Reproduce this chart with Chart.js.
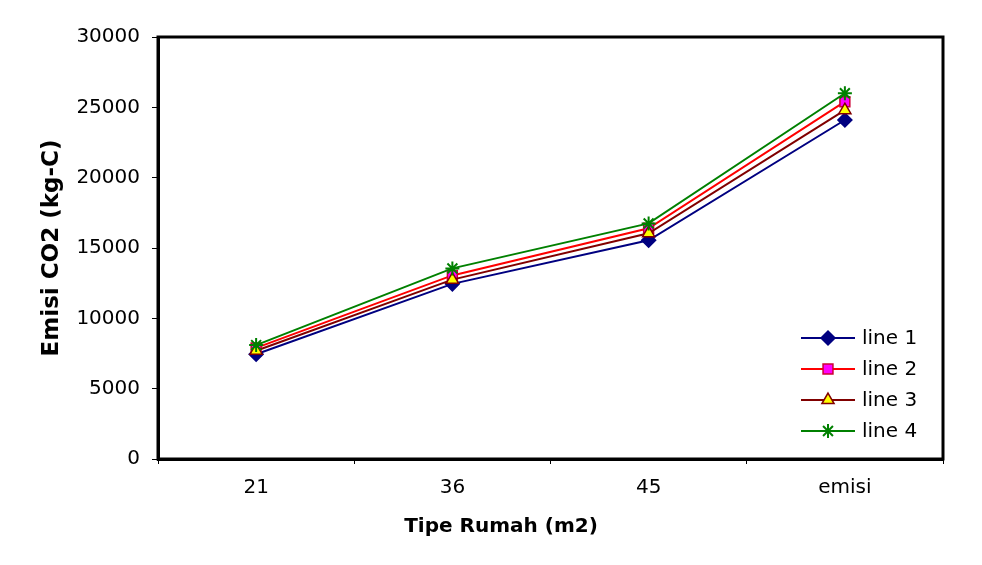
<!DOCTYPE html>
<html lang="en">
<head>
  <meta charset="UTF-8" />
  <title>Emisi CO2</title>
  <script src="https://cdn.jsdelivr.net/npm/chart.js"></script>
  <style>
    html, body { margin: 0; padding: 0; background: #fff; }
    #wrap { width: 982px; height: 565px; }
  </style>
</head>
<body>
  <div id="wrap"><canvas id="co2Chart" width="982" height="565"></canvas></div>

  <script>
    // data
    const categories = ['21', '36', '45', 'emisi'];
    const line1 = [7450, 12450, 15550, 24100];
    const line2 = [7900, 13050, 16400, 25400];
    const line3 = [7700, 12750, 16050, 24800];
    const line4 = [8100, 13550, 16750, 26000];
    const seriesNames = ['line 1', 'line 2', 'line 3', 'line 4'];
    const yTicks = [0, 5000, 10000, 15000, 20000, 25000, 30000];

    const FONT = 'DejaVu Sans, Verdana, sans-serif';

    const styles = [
      { line: '#000080', fill: '#000080', stroke: '#000080', shape: 'rectRot', r: 7 },
      { line: '#ff0000', fill: '#ff00ff', stroke: '#cc0033', shape: 'rect', r: 7 },
      { line: '#800000', fill: '#ffff00', stroke: '#800000', shape: 'triangle', r: 7 },
      { line: '#008000', fill: '#008000', stroke: '#008000', shape: 'star', r: 7 }
    ];

    // later series sit on top, like the original
    const datasets = [line1, line2, line3, line4].map((vals, i) => ({
      label: seriesNames[i],
      data: vals,
      order: 3 - i,
      borderColor: styles[i].line,
      borderWidth: 2,
      pointStyle: styles[i].shape,
      pointRadius: styles[i].r,
      pointBackgroundColor: styles[i].fill,
      pointBorderColor: styles[i].stroke,
      pointBorderWidth: i === 3 ? 2 : 1.5,
      tension: 0,
      fill: false
    }));

    // frame, axis titles and inner legend
    const extras = {
      id: 'extras',
      afterDraw(chart) {
        const ctx = chart.ctx;
        const a = chart.chartArea;
        ctx.save();
        ctx.strokeStyle = '#000';
        ctx.lineWidth = 3;
        ctx.strokeRect(a.left, a.top, a.right - a.left, a.bottom - a.top);

        ctx.fillStyle = '#000';
        ctx.textAlign = 'center';
        ctx.textBaseline = 'middle';
        ctx.font = 'bold 20px ' + FONT;
        ctx.fillText('Tipe Rumah (m2)', 501, 527);

        ctx.font = 'bold 23px ' + FONT;
        ctx.translate(52, 248);
        ctx.rotate(-Math.PI / 2);
        ctx.fillText('Emisi CO2 (kg-C)', 0, 0);
        ctx.restore();

        // legend
        ctx.save();
        ctx.font = '20px ' + FONT;
        ctx.textAlign = 'left';
        ctx.textBaseline = 'middle';
        const rowsY = [338, 369, 400, 431];
        seriesNames.forEach((name, i) => {
          const ds = chart.data.datasets[i];
          const y = rowsY[i];
          ctx.strokeStyle = ds.borderColor;
          ctx.lineWidth = 2;
          ctx.beginPath();
          ctx.moveTo(801, y);
          ctx.lineTo(855, y);
          ctx.stroke();
          ctx.fillStyle = ds.pointBackgroundColor;
          ctx.strokeStyle = ds.pointBorderColor;
          ctx.lineWidth = ds.pointBorderWidth;
          Chart.helpers.drawPoint(ctx, { pointStyle: ds.pointStyle, radius: ds.pointRadius, rotation: 0, borderWidth: ds.pointBorderWidth }, 828, y);
          ctx.fillStyle = '#000';
          ctx.fillText(name, 862, y + 1);
        });
        ctx.restore();
      }
    };

    new Chart(document.getElementById('co2Chart'), {
      type: 'line',
      data: { labels: categories, datasets },
      options: {
        responsive: false,
        animation: false,
        layout: { padding: { top: 37, right: 39, left: 0, bottom: 0 } },
        plugins: { legend: { display: false }, tooltip: { enabled: false } },
        scales: {
          x: {
            offset: true,
            grid: { offset: true, drawOnChartArea: false, drawTicks: true, tickLength: 5, color: '#000', lineWidth: 1 },
            border: { display: true, color: '#000', width: 3 },
            ticks: { color: '#000', font: { family: FONT, size: 20 }, padding: 12, maxRotation: 0 },
            afterFit(scale) { scale.height = 565 - 459; }
          },
          y: {
            min: 0,
            max: 30000,
            afterBuildTicks(scale) { scale.ticks = yTicks.map(v => ({ value: v })); },
            grid: { drawOnChartArea: false, drawTicks: true, tickLength: 6, color: '#000', lineWidth: 1 },
            border: { display: true, color: '#000', width: 3 },
            ticks: { color: '#000', font: { family: FONT, size: 20 }, padding: 12, callback: v => String(v) },
            afterFit(scale) { scale.width = 158; }
          }
        }
      },
      plugins: [extras]
    });
  </script>
</body>
</html>
